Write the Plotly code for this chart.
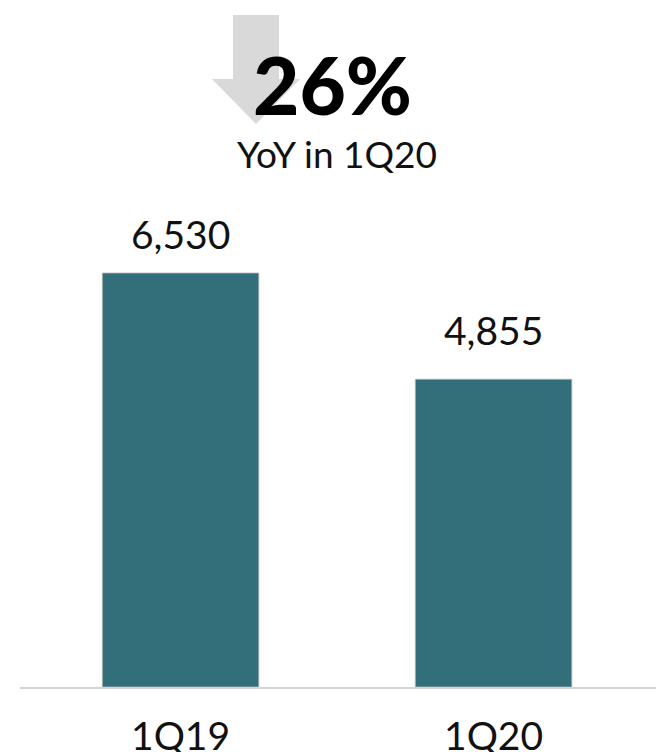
import plotly.graph_objects as go

# Quarterly values
quarters = ["1Q19", "1Q20"]
values = [6530, 4855]
headline = "26%"
subhead = "YoY in 1Q20"

W, H = 656, 752
BAR_COLOR = "#336e7b"
FONT = "Lato"
LABEL_SHIFTS = [14, 24]


def px_x(p):
    return p / W


def px_y(p):
    return 1 - p / H


fig = go.Figure()
fig.add_trace(
    go.Bar(
        x=quarters,
        y=values,
        width=0.5,
        marker=dict(color=BAR_COLOR, line=dict(color="rgba(180,180,180,0.8)", width=1)),
        hoverinfo="skip",
    )
)

# Value labels above each bar
for q, v, s in zip(quarters, values, LABEL_SHIFTS):
    fig.add_annotation(
        x=q, y=v, xref="x", yref="y",
        text=f"{v:,}",
        showarrow=False,
        yanchor="bottom",
        yshift=s,
        font=dict(family=FONT, size=39, color="#111111"),
    )

# Down arrow behind the headline figure
arrow = [
    (233, 15), (279, 15), (279, 79), (300, 79),
    (256, 124), (212, 79), (233, 79),
]
path = "M " + " L ".join(f"{px_x(x):.5f},{px_y(y):.5f}" for x, y in arrow) + " Z"
fig.add_shape(
    type="path", path=path, xref="paper", yref="paper",
    fillcolor="#d9d9d9", line=dict(width=0), layer="below",
)

fig.add_annotation(
    x=px_x(333), y=px_y(84), xref="paper", yref="paper",
    text=headline, showarrow=False, xanchor="center", yanchor="middle",
    font=dict(family=FONT, size=80, color="#000000", weight=900),
)
fig.add_annotation(
    x=px_x(337), y=px_y(153), xref="paper", yref="paper",
    text=subhead, showarrow=False, xanchor="center", yanchor="middle",
    font=dict(family=FONT, size=37, color="#111111"),
)

fig.update_layout(
    width=W, height=H,
    margin=dict(l=0, r=0, t=0, b=0),
    paper_bgcolor="white", plot_bgcolor="white",
    showlegend=False,
    bargap=0.5,
    xaxis=dict(
        domain=[20 / W, 1],
        range=[-0.513, 1.519],
        showline=True, linecolor="#d4d4d4", linewidth=2,
        showgrid=False, zeroline=False, ticks="",
        tickfont=dict(family=FONT, size=39, color="#111111"),
        ticklabelstandoff=14,
        automargin=False,
    ),
    yaxis=dict(
        domain=[65 / H, 1],
        range=[0, 687 * 6530 / 414],
        visible=False,
        automargin=False,
    ),
)

fig.write_html("out.html")
